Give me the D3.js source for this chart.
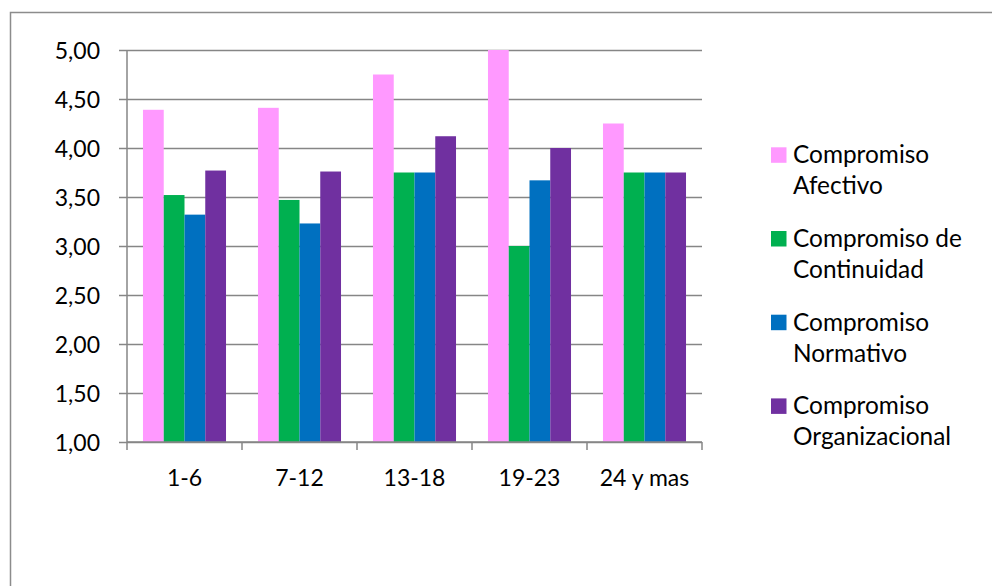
<!DOCTYPE html>
<html>
<head>
<meta charset="utf-8">
<script src="https://cdn.jsdelivr.net/npm/d3@7/dist/d3.min.js"></script>
<style>
  html, body { margin: 0; padding: 0; background: #fff; }
  svg { display: block; }
  text { font-family: Lato, "Open Sans", sans-serif; fill: #000; }
</style>
</head>
<body>
<svg id="chart" width="992" height="586"></svg>
<script>
// Antigüedad (años) por grupo
const categories = ["1-6", "7-12", "13-18", "19-23", "24 y mas"];

// Tipos de compromiso
const seriesNames = [
  "Compromiso Afectivo",
  "Compromiso de Continuidad",
  "Compromiso Normativo",
  "Compromiso Organizacional"
];
const seriesLegendLines = [
  ["Compromiso", "Afectivo"],
  ["Compromiso de", "Continuidad"],
  ["Compromiso", "Normativo"],
  ["Compromiso", "Organizacional"]
];
const seriesColors = ["#FF99FF", "#00B050", "#0070C0", "#7030A0"];

// Puntajes medios por grupo
const afectivo       = [4.39, 4.41, 4.75, 5.00, 4.25];
const continuidad    = [3.52, 3.47, 3.75, 3.00, 3.75];
const normativo      = [3.32, 3.23, 3.75, 3.67, 3.75];
const organizacional = [3.77, 3.76, 4.12, 4.00, 3.75];

const yTicks = [1.0, 1.5, 2.0, 2.5, 3.0, 3.5, 4.0, 4.5, 5.0];

const values = [afectivo, continuidad, normativo, organizacional];

const svg = d3.select("#chart");
const gridColor = "#868686";

// Outer frame
svg.append("path")
  .attr("d", "M10.5,586 L10.5,12.5 L992,12.5")
  .attr("fill", "none")
  .attr("stroke", "#8c8c8c")
  .attr("stroke-width", 1.5);

const plot = { left: 127, right: 702, top: 50, bottom: 442 };

const x0 = d3.scaleBand()
  .domain(categories)
  .range([plot.left, plot.right])
  .paddingInner(0.278)
  .paddingOuter(0.139);

const x1 = d3.scaleBand()
  .domain(d3.range(seriesNames.length))
  .range([0, x0.bandwidth()]);

const y = d3.scaleLinear()
  .domain([1, 5])
  .range([plot.bottom, plot.top]);

// Horizontal gridlines + y ticks
const yAxis = d3.axisLeft(y)
  .tickValues(yTicks)
  .tickSize(plot.right - plot.left + 8)
  .tickFormat(d => d3.format(".2f")(d).replace(".", ","));

const gy = svg.append("g")
  .attr("transform", `translate(${plot.right},0)`)
  .call(yAxis);
gy.select(".domain").remove();
gy.selectAll(".tick line")
  .attr("stroke", gridColor)
  .attr("stroke-width", 1.5);
gy.selectAll(".tick text")
  .attr("x", -(plot.right - 100))
  .attr("dy", "0.35em")
  .attr("text-anchor", "end")
  .style("font-size", "23px")
  .style("font-family", "Lato, sans-serif");

// Bars
const groups = svg.append("g")
  .selectAll("g")
  .data(categories)
  .join("g")
  .attr("transform", d => `translate(${x0(d)},0)`);

groups.selectAll("rect")
  .data((d, i) => values.map((s, k) => ({ k, v: s[i] })))
  .join("rect")
  .attr("x", d => x1(d.k))
  .attr("width", x1.bandwidth())
  .attr("y", d => y(d.v))
  .attr("height", d => y(1) - y(d.v))
  .attr("fill", d => seriesColors[d.k]);

// Left axis line
svg.append("line")
  .attr("x1", plot.left).attr("x2", plot.left)
  .attr("y1", plot.top).attr("y2", plot.bottom)
  .attr("stroke", gridColor).attr("stroke-width", 1.5);

// Category axis with boundary ticks
const gx = svg.append("g")
  .attr("transform", `translate(0,${plot.bottom})`);
gx.append("line")
  .attr("x1", plot.left).attr("x2", plot.right)
  .attr("stroke", gridColor).attr("stroke-width", 1.5);
const boundaries = d3.range(categories.length + 1).map(i => plot.left + i * (plot.right - plot.left) / categories.length);
gx.selectAll("line.tk")
  .data(boundaries)
  .join("line")
  .attr("class", "tk")
  .attr("x1", d => d).attr("x2", d => d)
  .attr("y1", 0).attr("y2", 8)
  .attr("stroke", gridColor).attr("stroke-width", 1.5);
gx.selectAll("text")
  .data(categories)
  .join("text")
  .attr("x", d => x0(d) + x0.bandwidth() / 2)
  .attr("y", 44)
  .attr("text-anchor", "middle")
  .style("font-size", "23px")
  .text(d => d);

// Legend
const legend = svg.append("g");
const entries = legend.selectAll("g")
  .data(seriesNames)
  .join("g")
  .attr("transform", (d, i) => `translate(771,${147.3 + i * 83.7})`);
entries.append("rect")
  .attr("width", 15.5).attr("height", 15.5)
  .attr("fill", (d, i) => seriesColors[i]);
entries.append("text")
  .attr("x", 22)
  .attr("y", 16)
  .style("font-size", "24.4px")
  .selectAll("tspan")
  .data((d, i) => seriesLegendLines[i])
  .join("tspan")
  .attr("x", 22)
  .attr("dy", (d, j) => j === 0 ? 0 : 31)
  .text(d => d);
</script>
</body>
</html>
